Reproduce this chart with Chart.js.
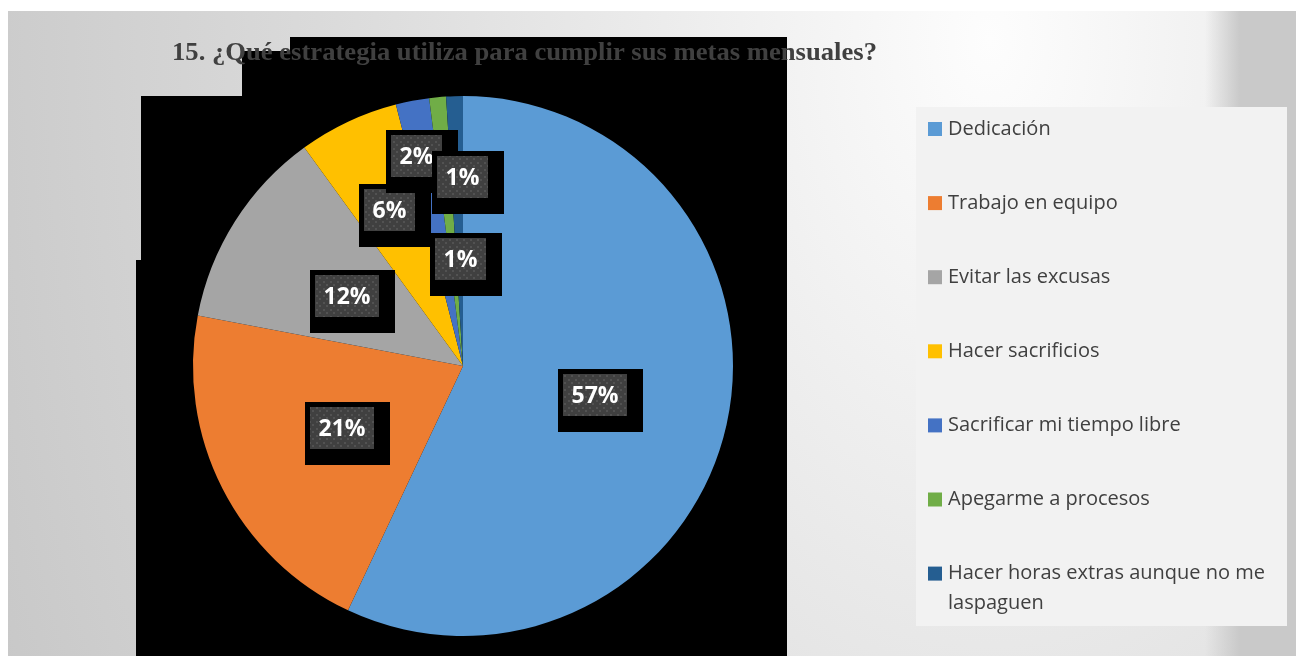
<!DOCTYPE html>
<html>
<head>
<meta charset="utf-8">
<title>Estrategias para cumplir metas mensuales</title>
<script src="https://cdn.jsdelivr.net/npm/chart.js@4"></script>
<style>
  html, body { margin: 0; padding: 0; background: #fff; overflow: hidden; }
  #wrap { width: 1296px; height: 656px; position: relative; }
</style>
</head>
<body>
<div id="wrap"><canvas id="myChart"></canvas></div>
<script>
const chartTitle = "15. ¿Qué estrategia utiliza para cumplir sus metas mensuales?";
const labels = [
    "Dedicación",
    "Trabajo en equipo",
    "Evitar las excusas",
    "Hacer sacrificios",
    "Sacrificar mi tiempo libre",
    "Apegarme a procesos",
    "Hacer horas extras aunque no me laspaguen"
];
const percents = [57, 21, 12, 6, 2, 1, 1];
const colors = ["#5B9BD5", "#ED7D31", "#A5A5A5", "#FFC000", "#4472C4", "#70AD47", "#255E91"];

// value boxes: fraction of radius along the slice middle, then a small nudge in px
const labelSpots = [
    { r: 0.5, dx: 0, dy: 0 },
    { r: 0.5, dx: -1, dy: 1 },
    { r: 0.5, dx: -2, dy: 2 },
    { r: 0.64, dx: 0, dy: 0 },
    { r: 0.78, dx: -7, dy: -3 },
    { r: 0.39, dx: 7, dy: -2 },
    { r: 0.70, dx: 5, dy: 0 }
];

const myChartElement = document.getElementById("myChart");

// dotted fill used inside the value boxes
function makeDots() {
    const c = document.createElement("canvas");
    c.width = 7; c.height = 7;
    const g = c.getContext("2d");
    g.fillStyle = "#404040";
    g.fillRect(0, 0, 7, 7);
    g.fillStyle = "#525252";
    g.fillRect(1, 1, 2, 2);
    g.fillRect(4, 4, 2, 2);
    return c;
}

const slideBackground = {
    id: "slideBackground",
    beforeDraw(chart) {
        const { ctx, width, height } = chart;
        ctx.save();
        ctx.fillStyle = "#ffffff";
        ctx.fillRect(0, 0, width, height);

        ctx.save();
        ctx.beginPath();
        ctx.rect(8, 11, width - 8, height - 11);
        ctx.clip();
        ctx.save();
        ctx.translate(990, 40);
        ctx.scale(1, 1.5);
        const g = ctx.createRadialGradient(0, 0, 0, 0, 0, 1120);
        g.addColorStop(0, "#fdfdfd");
        g.addColorStop(0.12, "#f6f6f6");
        g.addColorStop(0.6, "#dadada");
        g.addColorStop(1, "#c6c6c6");
        ctx.fillStyle = g;
        ctx.fillRect(-2000, -2000, 4000, 4000);
        ctx.restore();
        const edge = ctx.createLinearGradient(1205, 0, 1240, 0);
        edge.addColorStop(0, "rgba(201,201,201,0)");
        edge.addColorStop(1, "rgba(201,201,201,1)");
        ctx.fillStyle = edge;
        ctx.fillRect(1205, 11, width - 1205, height - 11);
        ctx.restore();

        // black block behind the plot
        ctx.fillStyle = "#000";
        ctx.beginPath();
        ctx.moveTo(290, 37);
        ctx.lineTo(787, 37);
        ctx.lineTo(787, height);
        ctx.lineTo(136, height);
        ctx.lineTo(136, 260);
        ctx.lineTo(141, 260);
        ctx.lineTo(141, 96);
        ctx.lineTo(242, 96);
        ctx.lineTo(242, 51);
        ctx.lineTo(290, 51);
        ctx.closePath();
        ctx.fill();

        // title
        ctx.font = "bold 26px 'Liberation Serif', 'Times New Roman', serif";
        ctx.fillStyle = "#404040";
        ctx.textBaseline = "alphabetic";
        const w = ctx.measureText(chartTitle).width;
        ctx.translate(172, 60);
        ctx.scale(705 / w, 1);
        ctx.fillText(chartTitle, 0, 0);
        ctx.restore();
    }
};

const sideLegend = {
    id: "sideLegend",
    afterDraw(chart) {
        const { ctx } = chart;
        ctx.save();
        ctx.fillStyle = "#f2f2f2";
        ctx.fillRect(916, 107, 371, 519);
        ctx.font = "20px 'Open Sans', sans-serif";
        ctx.textBaseline = "middle";
        const bg = chart.data.datasets[0].backgroundColor;
        chart.data.labels.forEach((txt, i) => {
            const yc = 129 + i * 74.1;
            ctx.fillStyle = bg[i];
            ctx.fillRect(928, yc - 7, 14, 14);
            ctx.fillStyle = "#404040";
            // wrap long entries
            const words = txt.split(" ");
            const lines = [];
            let line = "";
            for (const word of words) {
                const test = line ? line + " " + word : word;
                if (ctx.measureText(test).width > 332 && line) {
                    lines.push(line);
                    line = word;
                } else {
                    line = test;
                }
            }
            lines.push(line);
            lines.forEach((l, k) => ctx.fillText(l, 948, yc + k * 30));
        });
        ctx.restore();
    }
};

const valueBoxes = {
    id: "valueBoxes",
    afterDatasetsDraw(chart) {
        const { ctx } = chart;
        const meta = chart.getDatasetMeta(0);
        const dots = ctx.createPattern(makeDots(), "repeat");
        ctx.save();
        ctx.font = "bold 23px 'Open Sans', sans-serif";
        ctx.textAlign = "center";
        ctx.textBaseline = "middle";
        meta.data.forEach((arc, i) => {
            const p = arc.getProps(["x", "y", "startAngle", "endAngle", "outerRadius"], true);
            const mid = (p.startAngle + p.endAngle) / 2;
            const spot = labelSpots[i];
            const cx = p.x + Math.cos(mid) * p.outerRadius * spot.r + spot.dx;
            const cy = p.y + Math.sin(mid) * p.outerRadius * spot.r + spot.dy;
            const text = chart.data.datasets[0].data[i] + "%";
            const bw = Math.round(ctx.measureText(text).width + 17);
            const bh = 42;
            const bx = Math.round(cx - bw / 2);
            const by = Math.round(cy - bh / 2);
            ctx.fillStyle = "#000";
            ctx.fillRect(bx - 5, by - 5, bw + 21, bh + 21);
            ctx.fillStyle = dots;
            ctx.fillRect(bx, by, bw, bh);
            ctx.fillStyle = "#ffffff";
            ctx.fillText(text, bx + bw / 2, by + bh / 2 + 1);
        });
        ctx.restore();
    }
};

new Chart(myChartElement, {
    type: "pie",
    data: {
        labels: labels,
        datasets: [{
            data: percents,
            backgroundColor: colors,
            borderWidth: 0
        }]
    },
    options: {
        responsive: true,
        maintainAspectRatio: false,
        animation: false,
        layout: {
            padding: { left: 193, right: 563, top: 96, bottom: 20 }
        },
        plugins: {
            legend: { display: false },
            title: { display: false },
            tooltip: { enabled: false }
        }
    },
    plugins: [slideBackground, valueBoxes, sideLegend]
});
</script>
</body>
</html>
